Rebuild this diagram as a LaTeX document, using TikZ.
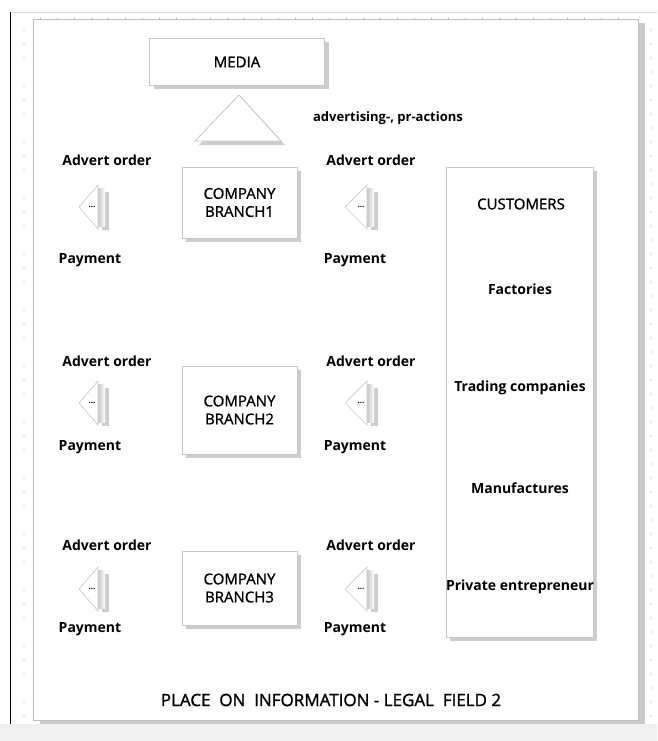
\documentclass[tikz,border=0pt]{standalone}
\usepackage{fontspec}
\setmainfont{Open Sans}
\newfontfamily\midfont{Open Sans}[FakeBold=1.2]
\usetikzlibrary{shadows}

\begin{document}
\begin{tikzpicture}[x=1pt, y=-1pt,
  shade/.style={drop shadow={shadow xshift=4pt, shadow yshift=-4pt, fill=gray!65, opacity=.6}},
  box/.style={draw=gray!45, line width=.8pt, fill=white, shade, align=center, inner sep=0pt,
    font=\fontsize{15}{18}\midfont},
  lbl/.style={inner sep=0pt, font=\fontsize{14}{16}\selectfont\bfseries},
  dots/.style={inner sep=0pt, font=\fontsize{8}{8}\selectfont\bfseries}]
  \useasboundingbox (0,0) rectangle (657,741);
  % window and rulers
  \fill[white] (0,0) rectangle (657,741);
  \fill[gray!12] (0,724) rectangle (657,741);
  \draw[gray!30] (10,12) -- (657,12);
  \draw[black, line width=1.5pt] (10.5,12) -- (10.5,724);
  \foreach \y in {30,44,...,716} {
    \fill[gray!70] (24,\y) circle (.6);
    \fill[gray!70] (651,\y) circle (.6);
  }
  % the field
  \draw[draw=gray!50, line width=.8pt, fill=white,
    drop shadow={shadow xshift=7pt, shadow yshift=-4pt, fill=gray!70, opacity=.6}]
    (33,19) rectangle (638,720);
  \foreach \x in {40,57,...,630} \draw[gray!60] (\x,18) -- (\x,20.5);
  % media
  \node[box, minimum width=175pt, minimum height=47pt] (media) at (237,62) {MEDIA};
  \draw[draw=gray!45, line width=.8pt, fill=white, shade] (239,95) -- (281,141) -- (195,141) -- cycle;
  \node[inner sep=0pt, font=\fontsize{13}{15}\selectfont\bfseries] (adverts) at (388,118) {advertising-, pr-actions};
  % branches
  \foreach \n/\ya/\yt/\yb/\yc/\hb in {1/160/207/260/202.5/71, 2/361/403/447/410/88, 3/545/589/629/588/74} {
    \node[box, minimum width=115pt, minimum height=\hb pt] (branch\n) at (239.5,\yc) {COMPANY\\BRANCH\n};
    \node[lbl] (orderL\n) at (107,\ya) {Advert order};
    \node[lbl] (orderR\n) at (371,\ya) {Advert order};
    \node[lbl] (payL\n) at (90,\yb) {Payment};
    \node[lbl] (payR\n) at (355,\yb) {Payment};
    \foreach \s/\xa/\xr in {L/79/98, R/345/367} {
      \shade[left color=gray!45, right color=white] (\xr,\yt-19) rectangle (\xr+7,\yt+19);
      \draw[gray!40, line width=.7pt, fill=white] (\xa,\yt) -- (\xr,\yt-22) -- (\xr,\yt+22) -- cycle;
      \node[dots] (tri\s\n) at (\xr-6,\yt) {...};
    }
  }
  % customers
  \node[box, minimum width=147pt, minimum height=470pt] (customers) at (519.5,402) {};
  \node[inner sep=0pt, font=\fontsize{15}{18}\midfont] (custhead) at (521,204) {CUSTOMERS};
  \foreach \t/\y [count=\i] in {Factories/289, Trading companies/388, Manufactures/488, Private entrepreneur/587}
    \node[lbl] (cust\i) at (520,\y) {\t};
  % field title
  \node[inner sep=0pt, font=\fontsize{17}{20}\midfont] (field) at (331,700) {PLACE\ \ ON\ \ INFORMATION - LEGAL\ \ FIELD 2};
\end{tikzpicture}
\end{document}
